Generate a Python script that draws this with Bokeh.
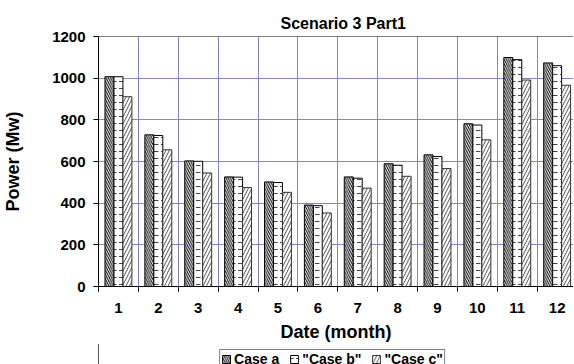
from bokeh.plotting import figure
from bokeh.layouts import column
from bokeh.models import (ColumnDataSource, Range1d, FixedTicker, Legend, LegendItem, Span)
from bokeh.transform import dodge
from bokeh.embed import file_html
from bokeh.resources import INLINE

# ---- data ----
months = [1, 2, 3, 4, 5, 6, 7, 8, 9, 10, 11, 12]
case_a = [1007, 728, 603, 526, 502, 391, 526, 589, 632, 781, 1099, 1073]
case_b = [1007, 725, 601, 525, 499, 388, 520, 582, 624, 775, 1089, 1060]
case_c = [911, 656, 545, 475, 452, 353, 472, 529, 566, 704, 991, 966]
y_ticks = [0, 200, 400, 600, 800, 1000, 1200]
series_labels = ['Case a', '"Case b"', '"Case c"']
series_cols = ['a', 'b', 'c']

src = ColumnDataSource(dict(month=months, a=case_a, b=case_b, c=case_c))

FONT = "Liberation Sans"
GRID = "#8484cc"

STYLES = [
    dict(fill_color="white", line_color="black", line_width=1,
         hatch_pattern="\\", hatch_scale=4.5, hatch_weight=1, hatch_color="black"),
    dict(fill_color="white", line_color="black", line_width=1,
         hatch_pattern='"', hatch_scale=7, hatch_weight=1, hatch_color="#444444"),
    dict(fill_color="white", line_color="#333333", line_width=1,
         hatch_pattern="/", hatch_scale=7, hatch_weight=1, hatch_color="#555555"),
]

p = figure(frame_width=475, frame_height=250, x_range=Range1d(0.5, 12.41), y_range=Range1d(0, 1200),
           output_backend="svg", toolbar_location=None,
           min_border_left=91, min_border_right=0, min_border_top=36, min_border_bottom=56)
p.background_fill_color = "white"
p.border_fill_color = "white"
p.outline_line_color = None

# title
p.title.text = "Scenario 3 Part1"
p.title.text_font = FONT
p.title.text_font_size = "16px"
p.title.text_font_style = "bold"
p.title.text_color = "black"
p.title.align = "left"
p.title.offset = 182
p.title.standoff = 10

bw = 0.225
ra = p.vbar(x=dodge('month', -bw, range=p.x_range), top='a', width=bw, source=src, **STYLES[0])
rb = p.vbar(x=dodge('month', 0, range=p.x_range), top='b', width=bw, source=src, **STYLES[1])
rc = p.vbar(x=dodge('month', bw, range=p.x_range), top='c', width=bw, source=src, **STYLES[2])

# top border line
p.add_layout(Span(location=1200, dimension='width', line_color="black", line_width=1))

# x axis: labels at centers, ticks/grid at boundaries
xt = FixedTicker(ticks=months, minor_ticks=[m - 0.5 for m in months] + [12.5])
p.xaxis.ticker = xt
p.xgrid.ticker = xt
p.xgrid.grid_line_color = None
p.xgrid.minor_grid_line_color = GRID
p.xgrid.minor_grid_line_width = 1
p.xaxis.major_tick_out = 0
p.xaxis.major_tick_in = 0
p.xaxis.minor_tick_out = 5
p.xaxis.minor_tick_in = 0
p.xaxis.major_label_standoff = 11
p.xaxis.axis_label = "Date (month)"
p.xaxis.axis_label_standoff = 6

yt = FixedTicker(ticks=y_ticks, minor_ticks=[])
p.yaxis.ticker = yt
p.ygrid.ticker = yt
p.ygrid.grid_line_color = GRID
p.ygrid.grid_line_width = 1
p.yaxis.major_tick_out = 5
p.yaxis.major_tick_in = 0
p.yaxis.minor_tick_out = 0
p.yaxis.minor_tick_in = 0
p.yaxis.major_label_standoff = 8
p.yaxis.axis_label = "Power (Mw)"
p.yaxis.axis_label_standoff = 26

for ax in (p.xaxis, p.yaxis):
    ax.axis_line_color = "black"
    ax.major_tick_line_color = "black"
    ax.minor_tick_line_color = "black"
    ax.major_label_text_font = FONT
    ax.major_label_text_font_size = "15px"
    ax.major_label_text_font_style = "bold"
    ax.major_label_text_color = "black"
    ax.axis_label_text_font = FONT
    ax.axis_label_text_font_size = "18px"
    ax.axis_label_text_font_style = "bold"
    ax.axis_label_text_color = "black"

# legend strip below the chart (own small figure so it is not clipped);
# the same bars are drawn there outside the visible range so the swatches render
p2 = figure(width=566, height=30, x_range=Range1d(100, 101), y_range=Range1d(0, 1),
            output_backend="svg", toolbar_location=None,
            x_axis_location=None, y_axis_location=None, min_border=0)
p2.grid.visible = False
p2.outline_line_color = None
p2.background_fill_color = "white"
p2.border_fill_color = "white"
lr = [p2.vbar(x='month', top=col, width=bw, source=src, **s) for col, s in zip(series_cols, STYLES)]

legend = Legend(items=[LegendItem(label=lab, renderers=[r]) for lab, r in zip(series_labels, lr)],
                orientation="horizontal", location="center",
                border_line_color="black", border_line_width=1,
                background_fill_color="white", background_fill_alpha=1,
                glyph_width=10, glyph_height=10, label_height=10,
                label_text_font=FONT, label_text_font_size="14px",
                label_text_font_style="bold", label_text_color="black",
                label_standoff=3, spacing=10, padding=1, margin=0)
p2.add_layout(legend, "center")

layout = column(p, p2, spacing=0)
open("out.html", "w").write(file_html(layout, INLINE))
